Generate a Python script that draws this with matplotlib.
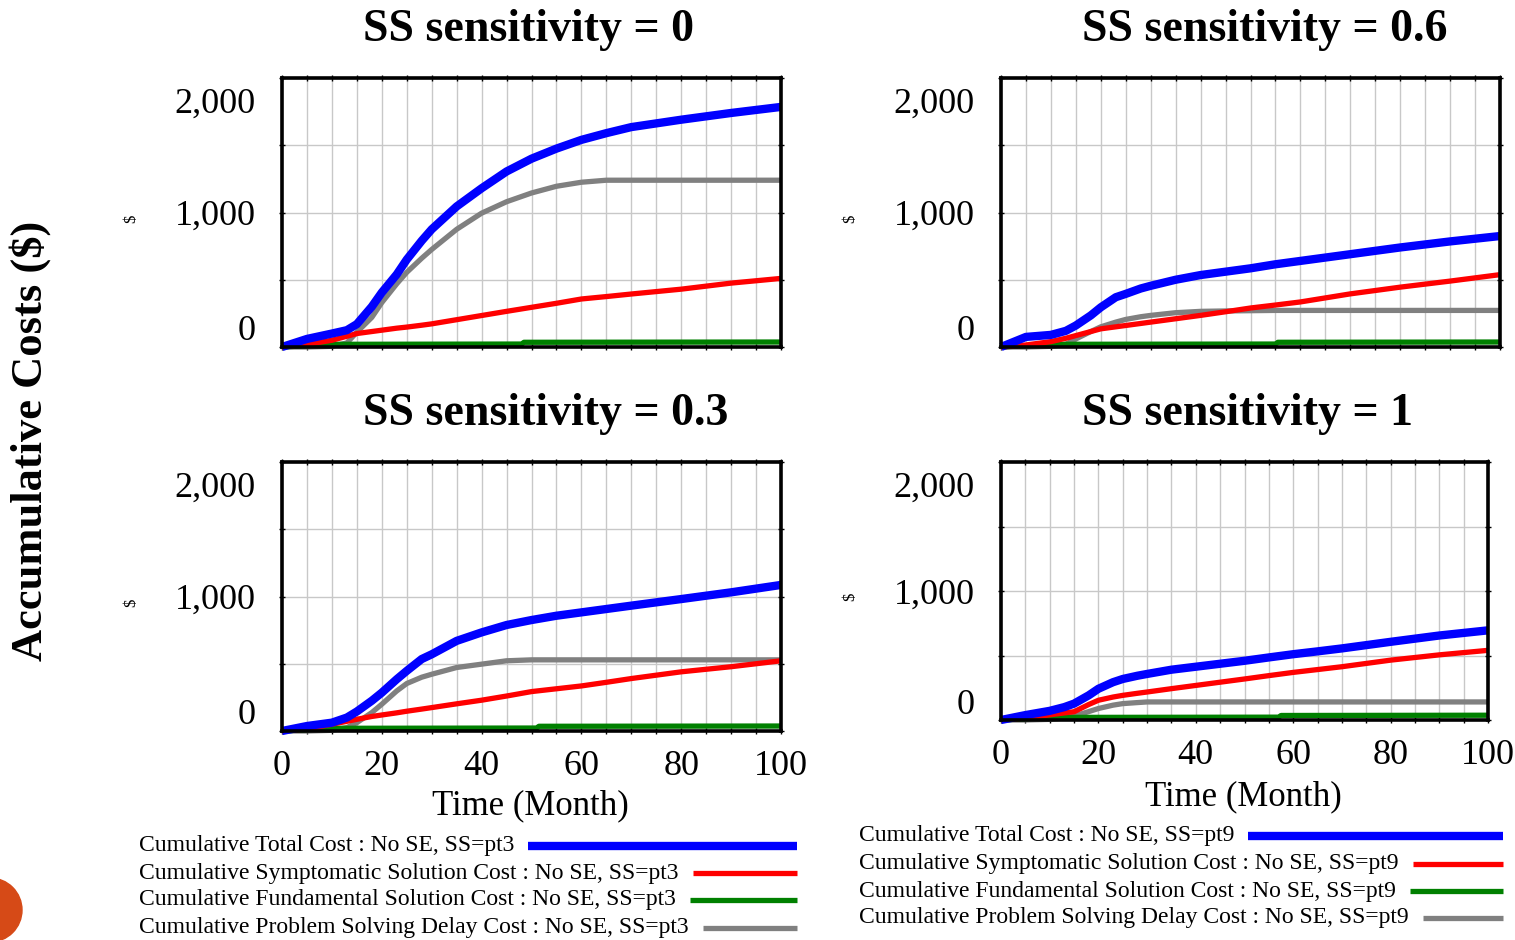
import matplotlib
matplotlib.use("Agg")
import matplotlib.pyplot as plt
from matplotlib.lines import Line2D
from matplotlib.patches import Ellipse
from matplotlib.ticker import FuncFormatter
import matplotlib.transforms as mtransforms

plt.rcParams["font.family"] = ["Liberation Serif", "DejaVu Serif"]

W, H = 1515, 940

# Simulation months at which the curves are sampled
months = [0, 5, 10, 13, 15, 18, 20, 23, 25, 28, 30, 35, 40, 45, 50, 55, 60, 65, 70, 80, 90, 100]

# SS sensitivity = 0
total_s0 = [0, 60, 100, 125, 170, 300, 405, 540, 650, 790, 875, 1045, 1180, 1305, 1400, 1475, 1540, 1590, 1635, 1690, 1740, 1785]
sympt_s0 = [0, 20, 50, 80, 100, 115, 125, 140, 148, 162, 172, 203, 234, 265, 295, 325, 357, 375, 394, 430, 475, 510]
delay_s0 = [0, 0, 5, 30, 110, 220, 330, 470, 555, 660, 725, 875, 995, 1080, 1145, 1195, 1225, 1240, 1240, 1240, 1240, 1240]
fund_t_s0 = [0, 10, 48, 48.5, 100]
fund_s0 = [0, 20, 22, 35, 37]

# SS sensitivity = 0.6
total_s6 = [0, 75, 90, 120, 160, 235, 295, 370, 395, 435, 455, 500, 535, 560, 585, 615, 640, 665, 690, 740, 785, 825]
sympt_s6 = [0, 15, 40, 65, 85, 115, 135, 150, 160, 175, 185, 210, 235, 262, 290, 312, 335, 365, 395, 445, 490, 538]
delay_s6 = [0, 0, 5, 20, 60, 115, 150, 185, 205, 225, 235, 255, 265, 268, 270, 272, 272, 272, 272, 272, 272, 272]
fund_t_s6 = [0, 10, 55, 55.5, 100]
fund_s6 = [0, 20, 22, 35, 37]

# SS sensitivity = 0.3
total_s3 = [0, 37, 62, 100, 145, 225, 285, 385, 447, 535, 570, 670, 733, 788, 825, 857, 882, 907, 932, 981, 1031, 1086]
sympt_s3 = [0, 15, 50, 72, 87, 108, 119, 135, 147, 163, 174, 202, 229, 260, 293, 314, 335, 362, 390, 440, 478, 522]
delay_s3 = [0, 0, 5, 25, 62, 137, 199, 298, 353, 400, 422, 472, 497, 522, 529, 529, 529, 529, 529, 529, 529, 529]
fund_t_s3 = [0, 10, 51, 51.5, 100]
fund_s3 = [0, 20, 22, 35, 37]

# SS sensitivity = 1
total_s10 = [0, 38, 71, 100, 127, 191, 242, 293, 318, 343, 357, 390, 413, 436, 459, 485, 510, 532, 555, 606, 655, 695]
sympt_s10 = [0, 15, 40, 55, 64, 120, 153, 178, 191, 207, 217, 243, 268, 293, 318, 344, 369, 391, 413, 464, 505, 540]
delay_s10 = [0, 0, 5, 15, 30, 65, 89, 115, 127, 135, 140, 140, 140, 140, 140, 140, 140, 140, 140, 140, 140, 140]
fund_t_s10 = [0, 10, 57, 57.5, 100]
fund_s10 = [0, 20, 22, 35, 37]

titles = ["SS sensitivity = 0", "SS sensitivity = 0.6", "SS sensitivity = 0.3", "SS sensitivity = 1"]
y_ticks = [0, 1000, 2000]
x_ticks = [0, 20, 40, 60, 80, 100]

series_names = ["Cumulative Total Cost", "Cumulative Symptomatic Solution Cost",
                "Cumulative Fundamental Solution Cost", "Cumulative Problem Solving Delay Cost"]
legend_runs = ["No SE, SS=pt3", "No SE, SS=pt9"]

C_TOTAL, C_SYMPT, C_FUND, C_DELAY = "#0000FF", "#FF0000", "#008000", "#808080"
LW_THICK, LW_THIN = 6.0, 3.8

fig = plt.figure(figsize=(W / 100, H / 100), dpi=100)


def rect(x0, y0, x1, y1):
    return [x0 / W, 1 - y1 / H, (x1 - x0) / W, (y1 - y0) / H]


def fpt(x, y):
    return x / W, 1 - y / H


panels = [
    (rect(282, 78, 781, 347), total_s0, sympt_s0, delay_s0, fund_t_s0, fund_s0, False),
    (rect(1001, 78, 1500, 347), total_s6, sympt_s6, delay_s6, fund_t_s6, fund_s6, False),
    (rect(282, 462, 781, 731), total_s3, sympt_s3, delay_s3, fund_t_s3, fund_s3, True),
    (rect(1001, 462, 1488, 720), total_s10, sympt_s10, delay_s10, fund_t_s10, fund_s10, True),
]

axes = []
for (pos, tot, sym, dly, ft, fv, show_x), title in zip(panels, titles):
    ax = fig.add_axes(pos)
    axes.append(ax)
    ax.set_xlim(0, 100)
    ax.set_ylim(0, 2000)
    ax.plot(months, dly, color=C_DELAY, lw=LW_THIN, solid_capstyle="butt", clip_on=False, zorder=3)
    ax.plot(ft, fv, color=C_FUND, lw=LW_THIN, solid_capstyle="butt", clip_on=False, zorder=4)
    ax.plot(months, sym, color=C_SYMPT, lw=LW_THIN, solid_capstyle="butt", clip_on=False, zorder=5)
    ax.plot(months, tot, color=C_TOTAL, lw=LW_THICK, solid_capstyle="butt", clip_on=False, zorder=6)

    ax.set_xticks(x_ticks)
    ax.set_xticks(range(0, 101, 5), minor=True)
    ax.set_yticks(y_ticks)
    ax.set_yticks([500, 1500], minor=True)
    ax.grid(True, which="both", color="#C8C8C8", lw=1.0, zorder=0)
    ax.set_axisbelow(True)
    for s in ax.spines.values():
        s.set_linewidth(2.6)
        s.set_zorder(7)
    ax.tick_params(which="both", direction="inout", length=4, width=1, top=True, right=True,
                   labelsize=26, pad=14)
    ax.tick_params(axis="y", pad=17)
    ax.yaxis.set_major_formatter(FuncFormatter(lambda v, p: f"{int(v):,}"))
    if not show_x:
        ax.tick_params(axis="x", labelbottom=False)
    else:
        ax.tick_params(axis="x", pad=12)

    # value labels sit inside the frame edges
    for tk, val in zip(ax.yaxis.get_major_ticks(), y_ticks):
        dy = 0
        if val == 0:
            dy = 19 / 100
        elif val == 2000:
            dy = -22 / 100
        tk.label1.set_transform(tk.label1.get_transform() +
                                mtransforms.ScaledTranslation(0, dy, fig.dpi_scale_trans))

    x0 = pos[0] * W
    ytop = (1 - pos[1] - pos[3]) * H
    fig.text(*fpt(x0 + 81, ytop - 48), title, fontsize=33, fontweight="bold",
             ha="left", va="center")
    ymid = (1 - pos[1] - pos[3] / 2) * H
    fig.text(*fpt(x0 - 151, ymid + 6), "$", fontsize=12, rotation=90, ha="center", va="center")

fig.text(*fpt(530, 806), "Time (Month)", fontsize=25, ha="center", va="center")
fig.text(*fpt(1243, 797), "Time (Month)", fontsize=25, ha="center", va="center")

fig.text(*fpt(30, 441), "Accumulative Costs ($)", fontsize=32, fontweight="bold",
         rotation=90, ha="center", va="center")

# legends: name text followed by a line sample ending at a fixed edge
colors = [C_TOTAL, C_SYMPT, C_FUND, C_DELAY]
widths = [LW_THICK, LW_THIN, LW_THIN, LW_THIN]
legend_specs = [(139, [846, 873, 900, 928], 797, legend_runs[0]),
                (859, [836, 864, 891, 918], 1503, legend_runs[1])]
fig.canvas.draw()
renderer = fig.canvas.get_renderer()
for lx, ys, xend, run in legend_specs:
    for name, y, c, lw in zip(series_names, ys, colors, widths):
        t = fig.text(*fpt(lx, y), f"{name} : {run}", fontsize=17, ha="left", va="center")
        ext = t.get_window_extent(renderer)
        xs = ext.x1 + 14
        fig.add_artist(Line2D([xs / W, xend / W], [1 - y / H, 1 - y / H], color=c, lw=lw,
                              solid_capstyle="butt", transform=fig.transFigure))

fig.add_artist(Ellipse(fpt(-10, 910), 64 / W, 64 / H, color="#D64A17",
                       transform=fig.transFigure, clip_on=False))

fig.savefig("out.png", dpi=100)
